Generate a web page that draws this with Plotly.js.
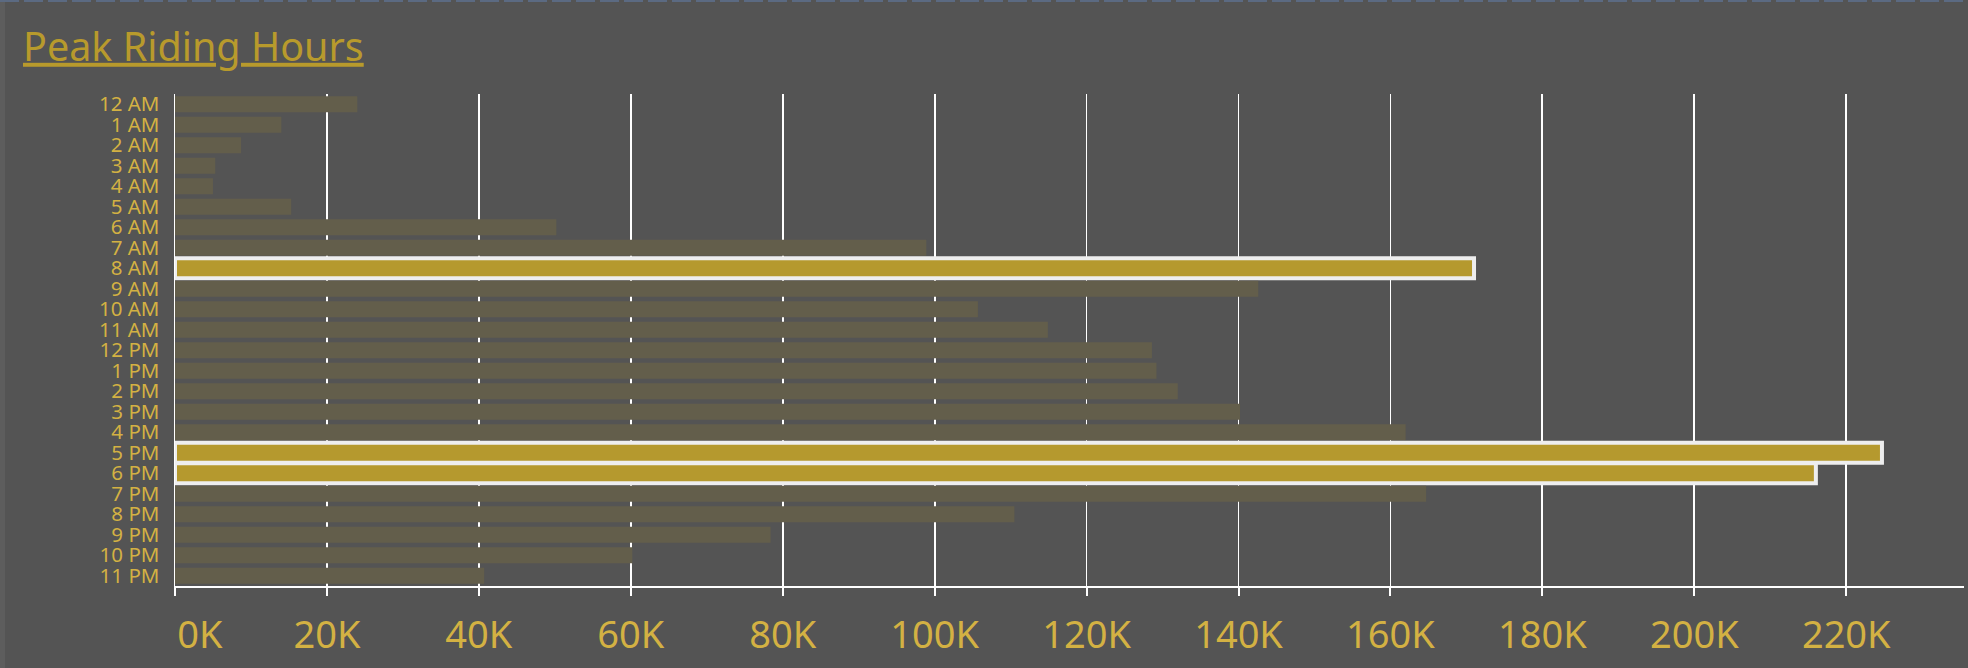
<!DOCTYPE html>
<html>
<head>
<meta charset="utf-8">
<script src="https://cdn.plot.ly/plotly-3.0.1.min.js"></script>
<style>
  html, body { margin: 0; padding: 0; background: #545454; overflow: hidden; }
  #wrap { position: relative; width: 1968px; height: 668px; }
  #chart { position: absolute; left: 0; top: 0; width: 1968px; height: 668px; }
  #topdash { position: absolute; left: 0; top: 0; width: 1968px; height: 2px;
    background: repeating-linear-gradient(90deg, #5b6a82 0px, #5b6a82 19px, transparent 19px, transparent 24px); z-index: 5; }
  #leftbar { position: absolute; left: 0; top: 0; width: 5px; height: 668px; background: #5d5d5d; z-index: 4; }
</style>
</head>
<body>
<div id="wrap">
  <div id="chart"></div>
  <div id="topdash"></div>
  <div id="leftbar"></div>
</div>
<script>
// ---- data ----
const hours = ["12 AM","1 AM","2 AM","3 AM","4 AM","5 AM","6 AM","7 AM","8 AM","9 AM","10 AM","11 AM",
               "12 PM","1 PM","2 PM","3 PM","4 PM","5 PM","6 PM","7 PM","8 PM","9 PM","10 PM","11 PM"];
const rides = [24000, 14000, 8700, 5300, 5000, 15300, 50200, 98900, 171000, 142600, 105700, 114900,
               128600, 129200, 132000, 140200, 162000, 224700, 216000, 164700, 110500, 78400, 60200, 40700];
const peakHours = ["8 AM", "5 PM", "6 PM"];
const tickValues = [0, 20000, 40000, 60000, 80000, 100000, 120000, 140000, 160000, 180000, 200000, 220000];
const tickLabels = ["0K","20K","40K","60K","80K","100K","120K","140K","160K","180K","200K","220K"];

// ---- styling ----
const BG = "#545454";
const BAR = "#635e4b";
const GOLD = "#b5992e";
const OUTLINE = "#eeeeee";
const LABEL = "#d3b143";
const TITLE = "#b89a2c";

const isPeak = hours.map(h => peakHours.includes(h));

const trace = {
  type: "bar",
  orientation: "h",
  y: hours,
  x: rides,
  width: isPeak.map(p => p ? 0.976 : 0.78),
  marker: {
    color: isPeak.map(p => p ? GOLD : BAR),
    line: { color: isPeak.map(p => p ? OUTLINE : BAR), width: isPeak.map(p => p ? 4 : 0) }
  },
  hoverinfo: "skip"
};

// shift the first (0K) label right, as in the reference
const shownLabels = tickLabels.map((t, i) => i === 0 ? "\u2007\u2007\u2009" + t : t);

const layout = {
  width: 1968, height: 668,
  paper_bgcolor: BG, plot_bgcolor: BG,
  margin: { l: 174.5, r: 4, t: 94, b: 82 },
  showlegend: false,
  title: {
    text: "Peak Riding Hours",
    font: { family: "Noto Sans", size: 39.5, color: TITLE, lineposition: "under" },
    xref: "container", yref: "container",
    x: 23 / 1968, xanchor: "left",
    y: 1 - 47 / 668, yanchor: "middle"
  },
  xaxis: {
    range: [0, 235500],
    tickvals: tickValues, ticktext: shownLabels,
    showgrid: true, gridcolor: "#ffffff", gridwidth: 1.8,
    zeroline: false,
    showline: true, linecolor: "#ffffff", linewidth: 2,
    ticks: "outside", ticklen: 8, tickwidth: 2, tickcolor: "#ffffff",
    tickfont: { family: "Noto Sans", size: 38, color: LABEL },
    ticklabelstandoff: 6,
    fixedrange: true
  },
  yaxis: {
    type: "category",
    categoryorder: "array", categoryarray: hours,
    tickmode: "array", tickvals: hours, ticktext: hours,
    autorange: "reversed",
    showgrid: false, zeroline: false,
    showline: true, linecolor: "#ffffff", linewidth: 1.5,
    ticks: "",
    tickfont: { family: "Noto Sans", size: 20.5, color: LABEL },
    ticklabelstandoff: 10,
    fixedrange: true
  },
  bargap: 0.22
};

Plotly.newPlot("chart", [trace], layout, { displayModeBar: false, staticPlot: true });
</script>
</body>
</html>
